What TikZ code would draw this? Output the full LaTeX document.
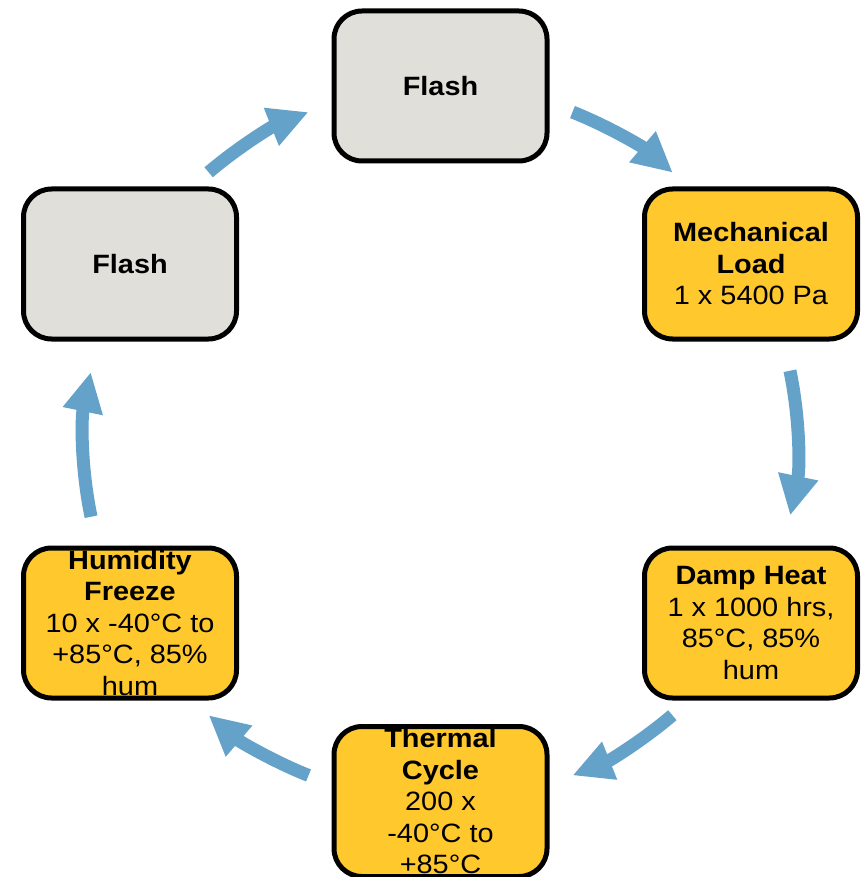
\documentclass[tikz,border=0pt]{standalone}
\usepackage{fontspec}
\setmainfont{Liberation Sans}[FakeStretch=1.09]
\usetikzlibrary{arrows.meta}
\definecolor{flashgray}{RGB}{224,223,218}
\definecolor{stepyellow}{RGB}{255,200,44}
\definecolor{cyclearrow}{RGB}{101,162,201}
\begin{document}
\begin{tikzpicture}[x=1pt,y=1pt,
  stagebox/.style={draw=black, line width=5pt, rounded corners=28pt,
    minimum width=213pt, minimum height=150pt, align=center, inner sep=0pt,
    font=\fontsize{26.5}{31.5}\selectfont},
  graybox/.style={stagebox, fill=flashgray},
  yellowbox/.style={stagebox, fill=stepyellow},
  cyclearr/.style={draw=cyclearrow, line width=13pt,
    -{Triangle[length=40pt,width=38pt]}}]
\useasboundingbox (0,0) rectangle (861,-877);

\node[graybox]   (flashtop)  at (440.5,-86)  {\textbf{Flash}};
\node[yellowbox] (mech)      at (751,-264)   {\textbf{Mechanical}\\\textbf{Load}\\1 x 5400 Pa};
\node[yellowbox] (damp)      at (751,-623)   {\textbf{Damp Heat}\\1 x 1000 hrs,\\85°C, 85\%\\hum};
\node[yellowbox] (thermal)   at (440.5,-801.5) {\textbf{Thermal}\\\textbf{Cycle}\\200 x\\-40°C to\\+85°C};
\node[yellowbox] (humid)     at (130,-623)   {\textbf{Humidity}\\\textbf{Freeze}\\10 x -40°C to\\+85°C, 85\%\\hum};
\node[graybox]   (flashleft) at (130,-264)   {\textbf{Flash}};

\coordinate (C) at (440.5,-443.75);
\path (C) ++(68.3:357pt)  coordinate (a1);
\path (C) ++(11.8:357pt)  coordinate (a2);
\path (C) ++(-49.5:357pt) coordinate (a3);
\path (C) ++(248.3:357pt) coordinate (a4);
\path (C) ++(191.8:357pt) coordinate (a5);
\path (C) ++(130.5:357pt) coordinate (a6);

\draw[cyclearr] (a1) arc[start angle=68.3,  end angle=49.4,  radius=357pt];
\draw[cyclearr] (a2) arc[start angle=11.8,  end angle=-11.6, radius=357pt];
\draw[cyclearr] (a3) arc[start angle=-49.5, end angle=-68.3, radius=357pt];
\draw[cyclearr] (a4) arc[start angle=248.3, end angle=229.5, radius=357pt];
\draw[cyclearr] (a5) arc[start angle=191.8, end angle=168.4, radius=357pt];
\draw[cyclearr] (a6) arc[start angle=130.5, end angle=111.7, radius=357pt];
\end{tikzpicture}
\end{document}
